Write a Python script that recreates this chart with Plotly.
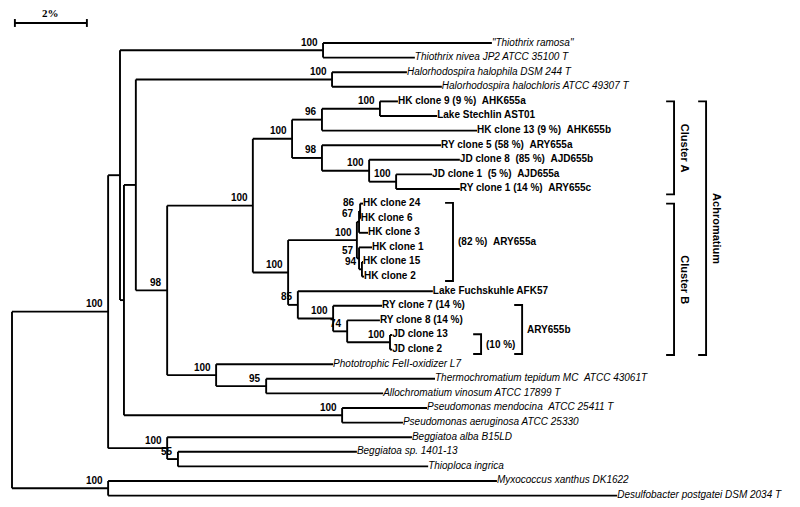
import plotly.graph_objects as go

# tips, top to bottom
tip_names = ['"Thiothrix ramosa"', 'Thiothrix nivea JP2 ATCC 35100 T',
             'Halorhodospira halophila DSM 244 T', 'Halorhodospira halochloris ATCC 49307 T',
             'HK clone 9 (9 %)  AHK655a', 'Lake Stechlin AST01', 'HK clone 13 (9 %)  AHK655b',
             'RY clone 5 (58 %)  ARY655a', 'JD clone 8  (85 %)  AJD655b', 'JD clone 1  (5 %)  AJD655a',
             'RY clone 1 (14 %)  ARY655c',
             'HK clone 24', 'HK clone 6', 'HK clone 3', 'HK clone 1', 'HK clone 15', 'HK clone 2',
             'Lake Fuchskuhle AFK57', 'RY clone 7 (14 %)', 'RY clone 8 (14 %)', 'JD clone 13', 'JD clone 2',
             'Phototrophic FeII-oxidizer L7', 'Thermochromatium tepidum MC  ATCC 43061T',
             'Allochromatium vinosum ATCC 17899 T', 'Pseudomonas mendocina  ATCC 25411 T',
             'Pseudomonas aeruginosa ATCC 25330', 'Beggiatoa alba B15LD', 'Beggiatoa sp. 1401-13',
             'Thioploca ingrica', 'Myxococcus xanthus DK1622', 'Desulfobacter postgatei DSM 2034 T']
tip_parent = ['Thio', 'Thio', 'Halo', 'Halo', 'O', 'O', 'K', 'L', 'M', 'N', 'N',
              'n86', 'n86', 'n67', 'n57', 'n94', 'n94', 'U', 'R', 'S', 'T', 'T',
              'G', 'H', 'H', 'Pseud', 'Pseud', 'Beg', 'n55', 'n55', 'MyxDes', 'MyxDes']
tip_depth = [13.33, 11.19, 10.97, 11.94, 10.72, 11.81, 12.92, 11.92, 12.44, 11.67, 12.44,
             9.75, 9.69, 9.89, 10.0, 9.75, 9.78, 11.69, 10.28, 10.22, 10.56, 10.56,
             8.92, 11.75, 10.31, 11.53, 10.86, 11.11, 9.58, 11.56, 13.47, 16.81]
tip_bold = [False] * 4 + [True] * 18 + [False] * 10

# internal nodes (distance from root in %)
node_names = ['root', 'A', 'MyxDes', 'B', 'Beg', 'Thio', 'C', 'D', 'Pseud', 'Halo', 'E', 'F', 'G',
              'J', 'Q', 'K', 'L', 'O', 'M', 'N', 'HKr', 'n67', 'n86', 'n57', 'n94', 'U', 'R', 'S',
              'T', 'H', 'n55']
node_parent = [None, 'root', 'root', 'A', 'A', 'B', 'B', 'C', 'C', 'D', 'D', 'E', 'E',
               'F', 'F', 'J', 'J', 'K', 'L', 'M', 'Q', 'HKr', 'n67', 'HKr', 'n57', 'Q', 'U', 'R',
               'S', 'G', 'Beg']
node_depth = [0, 2.67, 2.67, 3.0, 4.31, 8.64, 3.11, 3.44, 9.17, 8.89, 4.31, 6.69, 5.67,
              7.78, 7.67, 8.61, 8.61, 10.22, 9.92, 10.67, 9.58, 9.64, 9.67, 9.64, 9.72, 7.94, 8.92, 9.31,
              10.5, 7.06, 4.61]
node_support = ['', '100', '100', '', '100', '100', '', '', '100', '100', '98', '100', '100',
                '100', '100', '96', '98', '100', '100', '100', '100', '67', '86', '57', '94', '85', '100', '74',
                '100', '95', '55']

# brackets on the right: label, first tip, last tip, x (%)
bracket_labels = ['(82 %)  ARY655a', '(10 %)', 'ARY655b']
bracket_first = ['HK clone 24', 'JD clone 13', 'RY clone 7 (14 %)']
bracket_last = ['HK clone 2', 'JD clone 2', 'JD clone 2']
bracket_x = [12.25, 13.03, 14.17]

group_labels = ['Cluster A', 'Cluster B', 'Achromatium']
group_first = ['HK clone 9 (9 %)  AHK655a', 'HK clone 24', 'HK clone 9 (9 %)  AHK655a']
group_last = ['RY clone 1 (14 %)  ARY655c', 'JD clone 2', 'JD clone 2']
group_x = [18.39, 18.39, 19.28]

scale_len = 2
scale_label = '2%'

FONT = 'Liberation Sans, Arial, sans-serif'

# layout of the tree
ypos = {}
depth = {}
for i, n in enumerate(tip_names):
    ypos[n] = i
    depth[n] = tip_depth[i]
children = {n: [] for n in node_names}
for i, n in enumerate(tip_names):
    children[tip_parent[i]].append(n)
for n, p in zip(node_names, node_parent):
    if p is not None:
        children[p].append(n)
for n, d in zip(node_names, node_depth):
    depth[n] = d


def get_y(n):
    if n in ypos:
        return ypos[n]
    ys = [get_y(c) for c in children[n]]
    ypos[n] = (min(ys) + max(ys)) / 2
    return ypos[n]


get_y('root')
parent = dict(zip(tip_names, tip_parent))
parent.update({n: p for n, p in zip(node_names, node_parent)})

xs, ys = [], []
for n, p in parent.items():
    if p is None:
        continue
    xs += [depth[p], depth[n], None]
    ys += [ypos[n], ypos[n], None]
for n in node_names:
    cy = [ypos[c] for c in children[n]]
    xs += [depth[n], depth[n], None]
    ys += [min(cy), max(cy), None]

fig = go.Figure()
fig.add_trace(go.Scatter(x=xs, y=ys, mode='lines', line=dict(color='black', width=1.9),
                         hoverinfo='skip', showlegend=False))

tip_text = [('<b>%s</b>' % t if b else '<i>%s</i>' % t).replace('  ', ' \u00a0')
            for t, b in zip(tip_names, tip_bold)]
fig.add_trace(go.Scatter(x=tip_depth, y=list(range(len(tip_names))), mode='text',
                         text=tip_text, textposition='middle right',
                         textfont=dict(family=FONT, size=10, color='black'),
                         hoverinfo='skip', showlegend=False))

for n, s in zip(node_names, node_support):
    if s:
        fig.add_annotation(x=depth[n], y=ypos[n], text='<b>%s</b>' % s, showarrow=False,
                           xanchor='right', yanchor='middle', xshift=-3, yshift=8,
                           font=dict(family=FONT, size=10, color='black'))

# brackets
arm = 0.22
for lab, f, l, bx in zip(bracket_labels, bracket_first, bracket_last, bracket_x):
    y0, y1 = ypos[f] - 0.05, ypos[l] + 0.3
    fig.add_trace(go.Scatter(x=[bx - arm, bx, bx, bx - arm], y=[y0, y0, y1, y1], mode='lines',
                             line=dict(color='black', width=1.9), hoverinfo='skip', showlegend=False))
    fig.add_annotation(x=bx, y=(y0 + y1) / 2, text='<b>%s</b>' % lab.replace('  ', ' \u00a0'),
                       showarrow=False, xanchor='left', xshift=3,
                       font=dict(family=FONT, size=10, color='black'))

for lab, f, l, bx in zip(group_labels, group_first, group_last, group_x):
    y0, y1 = ypos[f], ypos[l] + 0.37
    fig.add_trace(go.Scatter(x=[bx - arm, bx, bx, bx - arm], y=[y0, y0, y1, y1], mode='lines',
                             line=dict(color='black', width=1.9), hoverinfo='skip', showlegend=False))
    fig.add_annotation(x=bx, y=(y0 + y1) / 2, text='<b>%s</b>' % lab, textangle=90,
                       showarrow=False, xanchor='center', xshift=11,
                       font=dict(family=FONT, size=11, color='black'))

# scale bar
sx0, sy = 0.08, -1.37
fig.add_trace(go.Scatter(x=[sx0, sx0, None, sx0, sx0 + scale_len, None, sx0 + scale_len, sx0 + scale_len],
                         y=[sy - 0.27, sy + 0.27, None, sy, sy, None, sy - 0.27, sy + 0.27],
                         mode='lines', line=dict(color='black', width=1.9),
                         hoverinfo='skip', showlegend=False))
fig.add_annotation(x=sx0 + scale_len / 2, y=sy, text='<b>%s</b>' % scale_label, showarrow=False,
                   yshift=10, borderpad=0,
                   font=dict(family='Liberation Serif, Times New Roman, serif', size=11, color='black'))

# the page puts the plot 8px in from the top-left corner, so the ranges are offset by that
fig.update_layout(width=800, height=507, margin=dict(l=0, r=0, t=0, b=0),
                  plot_bgcolor='white', paper_bgcolor='white', showlegend=False)
fig.update_xaxes(range=[-0.111, 22.111], visible=False)
fig.update_yaxes(range=[32.33, -2.397], visible=False)

fig.write_html("out.html")
